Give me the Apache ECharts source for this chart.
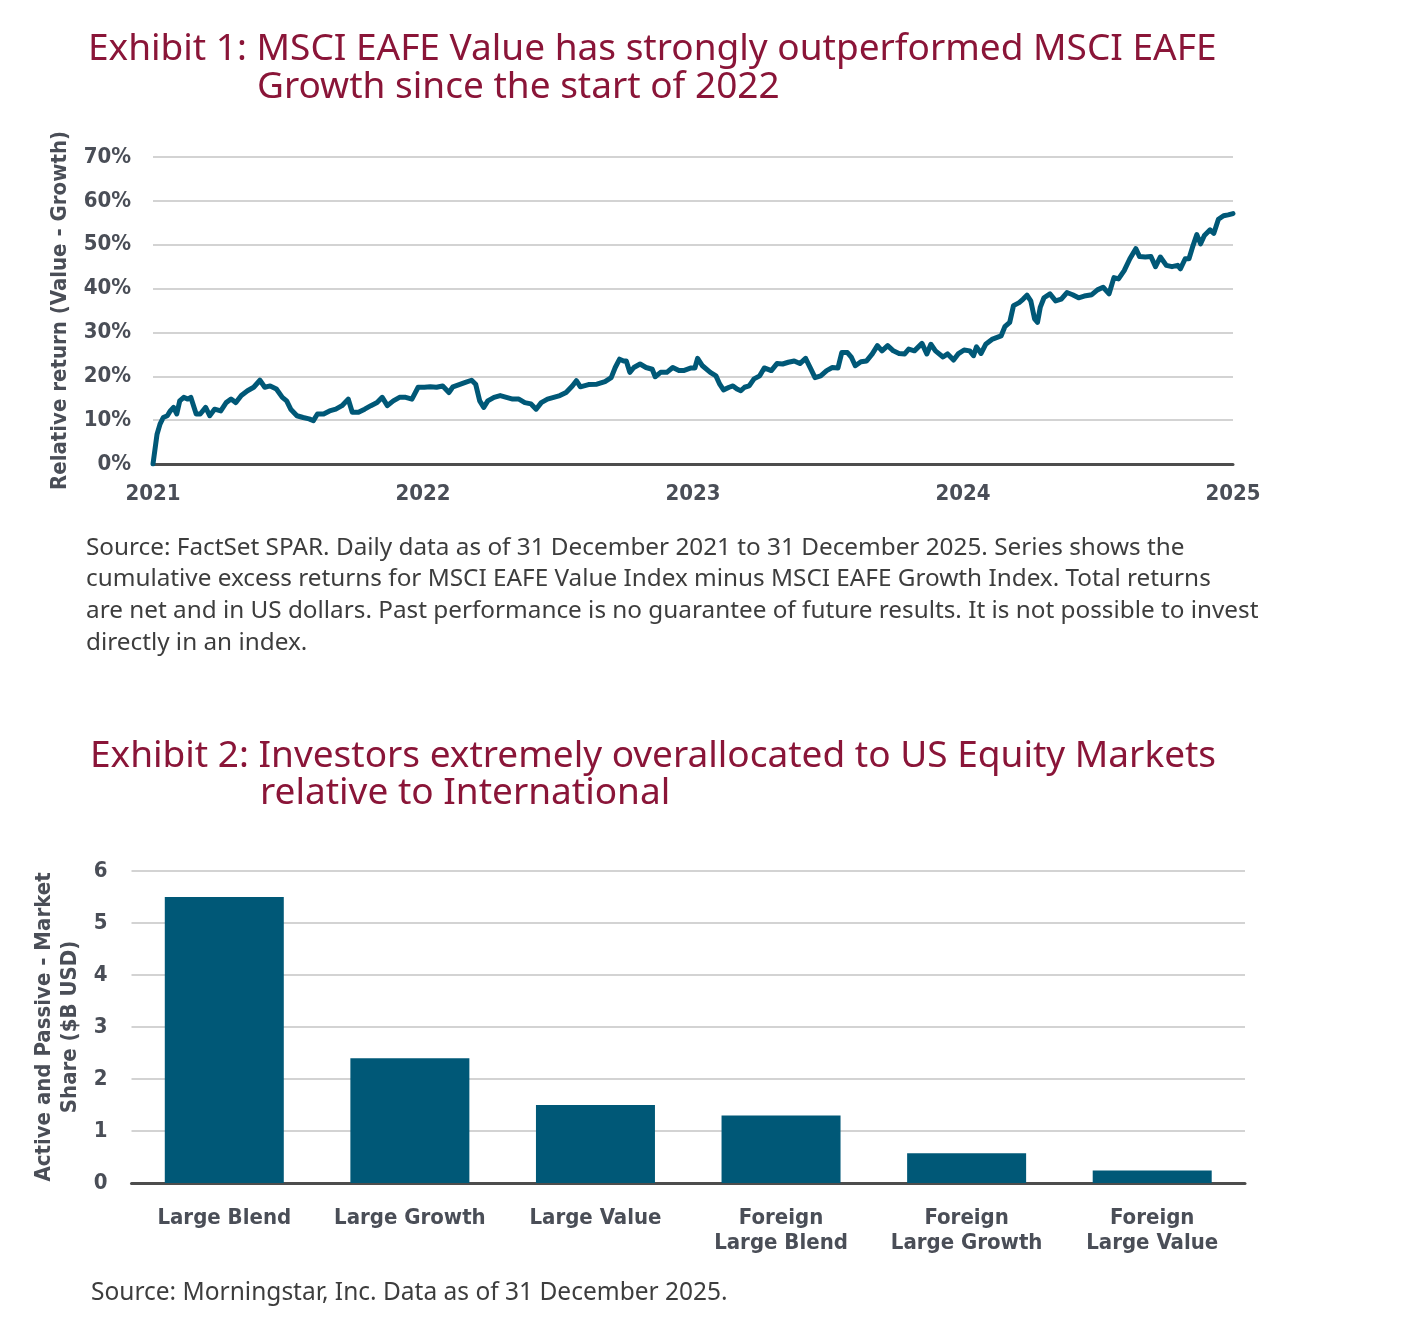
<!DOCTYPE html>
<html>
<head>
<meta charset="utf-8">
<script src="https://cdn.jsdelivr.net/npm/echarts@6/dist/echarts.min.js"></script>
<style>
html,body{margin:0;padding:0;background:#fff;}
#main{width:1401px;height:1326px;}
</style>
</head>
<body>
<div id="main"></div>
<script>
// ---- Exhibit 1 data: fractional year, cumulative relative return (%) ----
const returnTime = [
2021.000,2021.015,2021.026,2021.038,2021.053,2021.064,2021.076,2021.088,2021.099,2021.114,
2021.129,2021.140,2021.160,2021.175,2021.195,2021.210,2021.228,2021.251,2021.271,2021.289,
2021.307,2021.327,2021.350,2021.373,2021.396,2021.414,2021.434,2021.457,2021.479,2021.495,
2021.510,2021.533,2021.556,2021.578,2021.594,2021.609,2021.632,2021.654,2021.677,2021.700,
2021.723,2021.738,2021.761,2021.784,2021.807,2021.830,2021.849,2021.868,2021.890,2021.913,
2021.936,2021.959,2021.982,2022.005,2022.027,2022.050,2022.073,2022.096,2022.111,2022.134,
2022.157,2022.180,2022.195,2022.210,2022.225,2022.240,2022.263,2022.286,2022.309,2022.332,
2022.355,2022.377,2022.400,2022.419,2022.438,2022.461,2022.484,2022.507,2022.530,2022.553,
2022.568,2022.583,2022.613,2022.644,2022.674,2022.697,2022.712,2022.728,2022.743,2022.753,
2022.766,2022.781,2022.804,2022.826,2022.849,2022.860,2022.880,2022.903,2022.925,2022.948,
2022.965,2022.993,2023.007,2023.017,2023.035,2023.064,2023.085,2023.099,2023.113,2023.134,
2023.148,2023.163,2023.177,2023.191,2023.208,2023.226,2023.247,2023.264,2023.290,2023.311,
2023.332,2023.353,2023.375,2023.396,2023.417,2023.434,2023.452,2023.473,2023.495,2023.516,
2023.537,2023.551,2023.572,2023.587,2023.601,2023.622,2023.643,2023.664,2023.683,2023.700,
2023.721,2023.742,2023.763,2023.784,2023.799,2023.820,2023.848,2023.866,2023.881,2023.898,
2023.926,2023.943,2023.965,2023.982,2024.004,2024.025,2024.039,2024.050,2024.067,2024.084,
2024.107,2024.124,2024.141,2024.155,2024.173,2024.187,2024.208,2024.223,2024.237,2024.251,
2024.265,2024.276,2024.286,2024.300,2024.322,2024.343,2024.364,2024.385,2024.406,2024.428,
2024.449,2024.477,2024.498,2024.519,2024.541,2024.559,2024.576,2024.597,2024.618,2024.640,
2024.654,2024.675,2024.696,2024.713,2024.731,2024.753,2024.774,2024.795,2024.805,2024.823,
2024.837,2024.852,2024.866,2024.880,2024.894,2024.915,2024.929,2024.946,2024.965,2024.982,
2025.000
];
const relativeReturn = [
0,6.8,9.1,10.6,11,12.1,12.9,11.4,14.4,15.2,
14.8,15.2,11.4,11.4,12.9,11,12.5,12.1,14,14.8,
14,15.6,16.7,17.5,19.1,17.5,17.8,17.1,15.2,14.4,
12.5,11,10.6,10.3,9.9,11.4,11.4,12.1,12.5,13.3,
14.8,11.8,11.8,12.5,13.3,14,15.2,13.3,14.4,15.2,
15.2,14.8,17.5,17.5,17.6,17.5,17.8,16.3,17.6,18.1,
18.6,19.1,18.2,14.4,12.9,14.4,15.2,15.6,15.2,14.8,
14.8,14,13.7,12.5,14,14.8,15.2,15.6,16.3,17.8,
19,17.6,18.1,18.2,18.8,19.7,22,23.9,23.5,23.5,
20.9,22,22.8,22,21.6,19.9,20.9,20.9,22,21.3,
21.3,21.9,21.9,24.1,22.4,20.9,20.1,18.2,16.9,17.5,
17.8,17.1,16.7,17.5,17.8,19.4,20.1,21.9,21.3,22.9,
22.8,23.2,23.5,22.9,24.1,22,19.7,20.1,21.3,22,
21.9,25.4,25.4,24.3,22.4,23.3,23.5,25.1,27,25.8,
27,25.8,25.2,25.1,26.2,25.8,27.5,25.1,27.3,25.8,
24.4,25.1,23.7,25.1,26,25.8,24.7,26.7,25.2,27.3,
28.4,28.8,29.2,31.3,32.3,36.1,36.8,37.6,38.5,37.2,
33.1,32.3,35.7,37.9,38.8,37.2,37.6,39.1,38.6,37.9,
38.3,38.6,39.7,40.3,38.8,42.5,42.2,44.1,46.8,49.1,
47.3,47.2,47.3,45,47.2,45.3,45,45.3,44.5,46.8,
46.8,49.8,52.3,50.2,52.1,53.4,52.6,55.8,56.6,56.8,
57.1
];
const yearTicks = [2021, 2022, 2023, 2024, 2025];

// ---- Exhibit 2 data ----
const categories = ['Large Blend','Large Growth','Large Value','Foreign\nLarge Blend','Foreign\nLarge Growth','Foreign\nLarge Value'];
const marketShare = [5.5, 2.4, 1.5, 1.3, 0.57, 0.24];

// ---- text ----
const title1a = 'Exhibit 1: MSCI EAFE Value has strongly outperformed MSCI EAFE';
const title1b = 'Growth since the start of 2022';
const source1 = 'Source: FactSet SPAR. Daily data as of 31 December 2021 to 31 December 2025. Series shows the\ncumulative excess returns for MSCI EAFE Value Index minus MSCI EAFE Growth Index. Total returns\nare net and in US dollars. Past performance is no guarantee of future results. It is not possible to invest\ndirectly in an index.';
const title2a = 'Exhibit 2: Investors extremely overallocated to US Equity Markets';
const title2b = 'relative to International';
const source2 = 'Source: Morningstar, Inc. Data as of 31 December 2025.';

const TITLE_COLOR = '#8a1538';
const LABEL_COLOR = '#4a4e57';
const TITLE_FONT = '"Noto Sans", "Open Sans", sans-serif';
const LABEL_FONT = '"DejaVu Sans Condensed", Roboto, sans-serif';
const SERIES_COLOR = '#005877';

const chart = echarts.init(document.getElementById('main'), null, {renderer: 'canvas'});

const titleStyle = {color: TITLE_COLOR, fontSize: 37, fontWeight: 'normal', fontFamily: TITLE_FONT};
const labelStyle = {color: LABEL_COLOR, fontSize: 22, fontWeight: 'bold', fontFamily: LABEL_FONT};

chart.setOption({
  animation: false,
  title: [
    {text: title1a, left: 83, top: 26, textStyle: titleStyle},
    {text: title1b, left: 252, top: 64, textStyle: titleStyle},
    {text: title2a, left: 85, top: 733, textStyle: titleStyle},
    {text: title2b, left: 255, top: 770, textStyle: titleStyle}
  ],
  graphic: [
    {type: 'text', left: 86, top: 532, style: {text: source1, fill: '#3d3d3d', font: '24.3px "Noto Sans", "Open Sans", sans-serif', lineHeight: 31.7}},
    {type: 'text', left: 91, top: 1281, style: {text: source2, fill: '#3d3d3d', font: '24.5px "Noto Sans", "Open Sans", sans-serif'}}
  ],
  grid: [
    {left: 153, right: 168, top: 157, height: 307},
    {left: 131.5, right: 156, top: 871, height: 312}
  ],
  xAxis: [
    {
      gridIndex: 0, type: 'value', min: 2021, max: 2025, interval: 1,
      axisLine: {lineStyle: {color: '#4d4d4d', width: 3}},
      axisTick: {show: false},
      splitLine: {show: false},
      axisLabel: Object.assign({}, labelStyle, {margin: 19, formatter: v => String(v), customValues: yearTicks})
    },
    {
      gridIndex: 1, type: 'category', data: categories,
      axisLine: {lineStyle: {color: '#4d4d4d', width: 3}},
      axisTick: {show: false},
      axisLabel: Object.assign({}, labelStyle, {margin: 23, lineHeight: 25, interval: 0})
    }
  ],
  yAxis: [
    {
      gridIndex: 0, type: 'value', min: 0, max: 70, interval: 10,
      axisLine: {show: false}, axisTick: {show: false},
      splitLine: {lineStyle: {color: '#c4c4c4', width: 1.5}},
      axisLabel: Object.assign({}, labelStyle, {margin: 22, formatter: '{value}%'}),
      name: 'Relative return (Value - Growth)', nameLocation: 'middle', nameGap: 82,
      nameTextStyle: Object.assign({}, labelStyle, {fontSize: 22})
    },
    {
      gridIndex: 1, type: 'value', min: 0, max: 6, interval: 1,
      axisLine: {show: false}, axisTick: {show: false},
      splitLine: {lineStyle: {color: '#c4c4c4', width: 1.5}},
      axisLabel: Object.assign({}, labelStyle, {margin: 24}),
      name: 'Active and Passive - Market\nShare ($B USD)', nameLocation: 'middle', nameGap: 48,
      nameTextStyle: Object.assign({}, labelStyle, {fontSize: 22, lineHeight: 26})
    }
  ],
  series: [
    {
      type: 'line', xAxisIndex: 0, yAxisIndex: 0,
      data: returnTime.map((t, i) => [t, relativeReturn[i]]),
      showSymbol: false, smooth: false,
      lineStyle: {color: SERIES_COLOR, width: 5, join: 'round', cap: 'round'}
    },
    {
      type: 'bar', xAxisIndex: 1, yAxisIndex: 1,
      data: marketShare, barWidth: 119,
      itemStyle: {color: SERIES_COLOR}
    }
  ]
});
</script>
</body>
</html>
